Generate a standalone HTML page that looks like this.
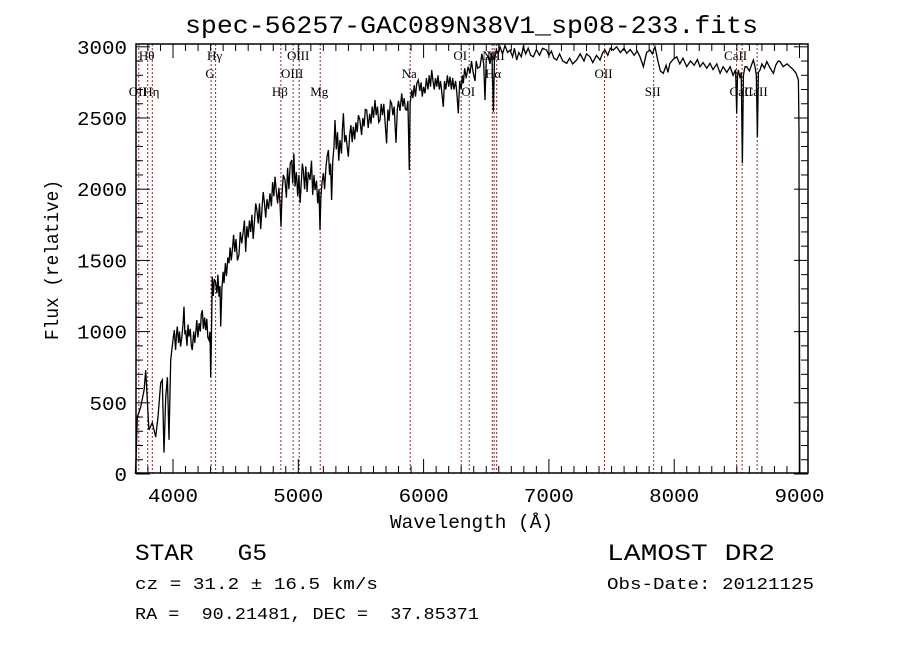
<!DOCTYPE html>
<html><head><meta charset="utf-8"><style>
html,body{margin:0;padding:0;background:#fff;}
svg{display:block;}
text{white-space:pre;}
.m{font-family:"Liberation Mono",monospace;fill:#000;}
.s{font-family:"Liberation Serif",serif;fill:#000;font-size:13px;}
</style></head><body>
<svg id="chart" width="900" height="649" viewBox="0 0 900 649" xmlns="http://www.w3.org/2000/svg" xml:space="preserve">
<rect width="900" height="649" fill="#fff"/>
<text class="m" x="185" y="33" font-size="25" textLength="573" lengthAdjust="spacingAndGlyphs">spec-56257-GAC089N38V1_sp08-233.fits</text>
<g id="lines"></g>
<g id="series"></g>
<g id="axes"></g>
<text class="m" x="390" y="528" font-size="19" textLength="163" lengthAdjust="spacingAndGlyphs">Wavelength (Å)</text>
<text class="m" transform="translate(58,340) rotate(-90)" font-size="19" textLength="160" lengthAdjust="spacingAndGlyphs">Flux (relative)</text>
<text class="m" x="135" y="560" font-size="23" textLength="132" lengthAdjust="spacingAndGlyphs">STAR   G5</text>
<text class="m" x="135" y="589" font-size="17" textLength="243" lengthAdjust="spacingAndGlyphs">cz = 31.2 ± 16.5 km/s</text>
<text class="m" x="135" y="619" font-size="17" textLength="344" lengthAdjust="spacingAndGlyphs">RA =  90.21481, DEC =  37.85371</text>
<text class="m" x="607" y="560" font-size="23" textLength="168" lengthAdjust="spacingAndGlyphs">LAMOST DR2</text>
<text class="m" x="607" y="589" font-size="17" textLength="207" lengthAdjust="spacingAndGlyphs">Obs-Date: 20121125</text>
</svg>
<script>
const wave = [3700,3705,3715,3742,3769,3782,3795,3808,3835,3862,3880,3902,3915,3928,3942,3955,3968,3982,
4002,4010,4021,4028,4034,4045,4052,4061,4070,4080,4088,4095,4101,4112,4120,4128,4138,4146,4154,4165,4173,4181,4190,4199,4208,4218,4226,4234,4243,4252,4261,4270,4278,4287,4295,4301,4306,4314,4322,4330,4341,4350,4358,4367,4375,4381,4390,4400,4407,4418,4427,4437,4447,4456,4465,4473,4484,4493,4503,4514,4527,4537,4548,4560,4570,4580,4590,4600,4610,4620,4630,4640,4650,4660,4670,4680,4690,4700,4710,4720,4730,4740,4750,4762,4774,4785,4795,4805,4814,4825,4835,4845,4854,4862,4870,4880,4894,4905,4915,4925,4935,4947,4955,4965,4974,4985,4995,5005,5014,5025,5032,5040,5050,5060,5070,5080,5093,5105,5115,5125,5133,5145,5155,5165,5173,5180,5190,5200,5210,5220,5230,5240,5250,5258,5266,5275,5285,5293,5303,5313,5323,5333,5345,5352,5360,5370,5380,5390,5399,5410,5420,5430,5439,5450,5460,5470,5480,5492,5505,5515,5525,5535,5546,5558,5570,5580,5590,5600,5612,5622,5632,5642,5652,5662,5672,5682,5692,5705,5715,5725,5735,5745,5755,5765,5772,5780,5790,5800,5812,5825,5835,5845,5855,5865,5875,5886,5892,5905,5915,5925,5935,5945,5958,5970,5980,5990,6000,6011,6022,6035,6045,6055,6065,6075,6085,6095,6105,6115,6125,6135,6145,6157,6167,6177,6190,6200,6211,6222,6232,6242,6255,6265,6277,6288,6300,6310,6317,6328,6340,6355,6370,6382,6395,6410,6420,6432,6450,6465,6480,6490,6500,6517,6530,6545,6557,6565,6580,6595,6610,
6630,6650,6670,6690,6710,6725,6743,6760,6780,6796,6815,6835,6855,6876,6900,6925,6950,6982,7000,7020,7040,7062,7085,7110,7142,7165,7190,7222,7250,7280,7300,7328,7350,7380,7408,7430,7448,7470,7490,7514,7540,7570,7600,7621,7650,7680,7705,7727,7754,7780,7807,7825,7847,7870,7890,7913,7935,7950,7966,7990,8020,8045,8070,8100,8130,8160,8185,8206,8230,8260,8286,8310,8340,8366,8390,8420,8446,8470,8490,8499,8505,8512,8525,8535,8544,8552,8565,8579,8600,8620,8632,8645,8655,8664,8672,8685,8700,8720,8739,8760,8780,8792,8810,8830,8845,8870,8900,8925,8950,8973,8991,8996,8999,9000,9001,9002];
const flux = [0,100,400,470,590,730,520,310,360,260,400,640,660,150,540,680,240,800,
960,1010,870,980,1035,920,1000,895,960,1050,1175,980,1010,900,1050,965,1020,900,870,1000,920,990,1080,960,1060,1000,1120,1150,1020,1100,1010,1090,960,940,1000,680,900,1385,1250,1370,1340,1270,1400,1245,1320,1035,1300,1420,1340,1480,1390,1520,1480,1590,1500,1570,1680,1560,1650,1500,1540,1700,1620,1700,1780,1560,1740,1660,1780,1700,1820,1650,1770,1900,1850,1760,1900,1720,1860,1980,1900,1800,1930,1860,1971,1880,2050,1950,2088,1980,1900,2010,1903,1737,1960,2100,2065,1940,2150,2000,2180,2205,2040,2250,2018,2120,1950,2100,1903,2060,2180,2135,2000,2160,1980,2120,2065,2200,1960,2100,1994,2060,1900,2000,1713,1950,2050,2113,2000,2150,2230,2275,2100,2180,1924,2200,2300,2486,2280,2400,2200,2345,2250,2420,2533,2330,2380,2300,2228,2380,2450,2330,2439,2350,2470,2400,2520,2486,2380,2500,2440,2560,2556,2430,2530,2460,2580,2500,2626,2520,2580,2470,2486,2600,2520,2600,2480,2322,2560,2480,2620,2603,2520,2580,2460,2325,2560,2620,2550,2673,2580,2640,2560,2556,2620,2135,2600,2697,2640,2730,2650,2740,2767,2690,2750,2650,2720,2673,2780,2700,2800,2720,2837,2760,2700,2780,2720,2800,2700,2760,2680,2579,2760,2700,2800,2720,2790,2700,2780,2700,2760,2680,2533,2760,2700,2800,2744,2850,2780,2860,2814,2900,2820,2760,2900,2850,2860,2950,2880,2626,2920,2930,2880,2960,2544,2900,2980,2950,3000,
2950,3010,2960,2977,2930,2990,2907,2960,2930,3000,2950,2990,2940,2930,2980,2940,2990,2977,2940,2970,2920,2907,2950,2900,2884,2920,2880,2907,2950,2900,2950,2930,2890,2940,2907,2960,2977,2940,2990,2977,3000,2960,2990,2954,2980,2940,2970,2930,2860,2960,2977,2950,3000,2900,2830,2814,2870,2820,2884,2910,2930,2880,2920,2860,2900,2870,2910,2860,2890,2850,2884,2840,2880,2814,2860,2820,2860,2800,2840,2533,2800,2837,2780,2820,2182,2800,2860,2860,2830,2880,2907,2860,2800,2369,2820,2837,2880,2850,2896,2860,2830,2814,2870,2900,2896,2860,2880,2860,2840,2814,2767,2420,0,1000,660,0];
const lineWave = [3727,3798,3835,4304,4340,4861,4959,5007,5175,5893,6300,6364,6548,6563,6583,7444,7836,8498,8542,8662];
const lineName = ["OII","Hθ","Hη","G","Hγ","Hβ","OIII","OIII","Mg","Na","OI","OI","NII","Hα","NII","OII","SII","CaII","CaII","CaII"];
const lineRow = [2,0,2,1,0,2,1,0,2,1,0,2,0,1,0,1,2,0,2,2];
const xTicks = [4000,5000,6000,7000,8000,9000];
const yTicks = [0,500,1000,1500,2000,2500,3000];
const L=136,R=808,T=44,B=473;
const X = w => 173 + (w-4000)*0.1253;
const Y = f => 474 - f*0.1424;
const NS="http://www.w3.org/2000/svg";
function mk(tag, attrs, parent){const e=document.createElementNS(NS,tag);for(const k in attrs)e.setAttribute(k,attrs[k]);parent.appendChild(e);return e;}
const lg=document.getElementById('lines');
const rowY=[60,78,96];
lineWave.forEach((w,i)=>{
  const x=X(w);
  const l=mk('line',{x1:x,x2:x,y1:T,y2:B,stroke:'#8b2a2a','stroke-width':1,'stroke-dasharray':'2,2'},lg);
  
  
  const t=mk('text',{x:x-1,y:rowY[lineRow[i]],class:'s','text-anchor':'middle'},lg);
  t.textContent=lineName[i];
  
  
});
const sg=document.getElementById('series');
const d=wave.map((w,i)=>(i?'L':'M')+X(w).toFixed(1)+','+Y(flux[i]).toFixed(1)).join('');
const p=mk('path',{d:d,fill:'none',stroke:'#000','stroke-width':1.3,'stroke-linejoin':'miter'},sg);


const ax=document.getElementById('axes');
const box=mk('rect',{x:L,y:T,width:R-L,height:B-T,fill:'none',stroke:'#000','stroke-width':1.5},ax);


for(let w=3800;w<=9000;w+=100){
  const x=X(w);const major=w%1000===0;const len=major?14:7;
  mk('line',{x1:x,x2:x,y1:B,y2:B-len,stroke:'#000','stroke-width':1},ax);
  mk('line',{x1:x,x2:x,y1:T,y2:T+len,stroke:'#000','stroke-width':1},ax);
}
xTicks.forEach(w=>{
  const t=mk('text',{x:X(w),y:502,class:'m','font-size':19,'text-anchor':'middle',textLength:50,lengthAdjust:'spacingAndGlyphs'},ax);
  t.textContent=w;
  
  
});
for(let f=0;f<=3000;f+=100){
  const y=Y(f);if(y<T)continue;const major=f%500===0;const len=major?14:7;
  mk('line',{x1:L,x2:L+len,y1:y,y2:y,stroke:'#000','stroke-width':1},ax);
  mk('line',{x1:R,x2:R-len,y1:y,y2:y,stroke:'#000','stroke-width':1},ax);
}
yTicks.forEach(f=>{
  const s=String(f);
  const t=mk('text',{x:127,y:Y(f)+7,class:'m','font-size':19,'text-anchor':'end',textLength:s.length*12.5,lengthAdjust:'spacingAndGlyphs'},ax);
  t.textContent=s;
  
  
});
</script>
</body></html>
